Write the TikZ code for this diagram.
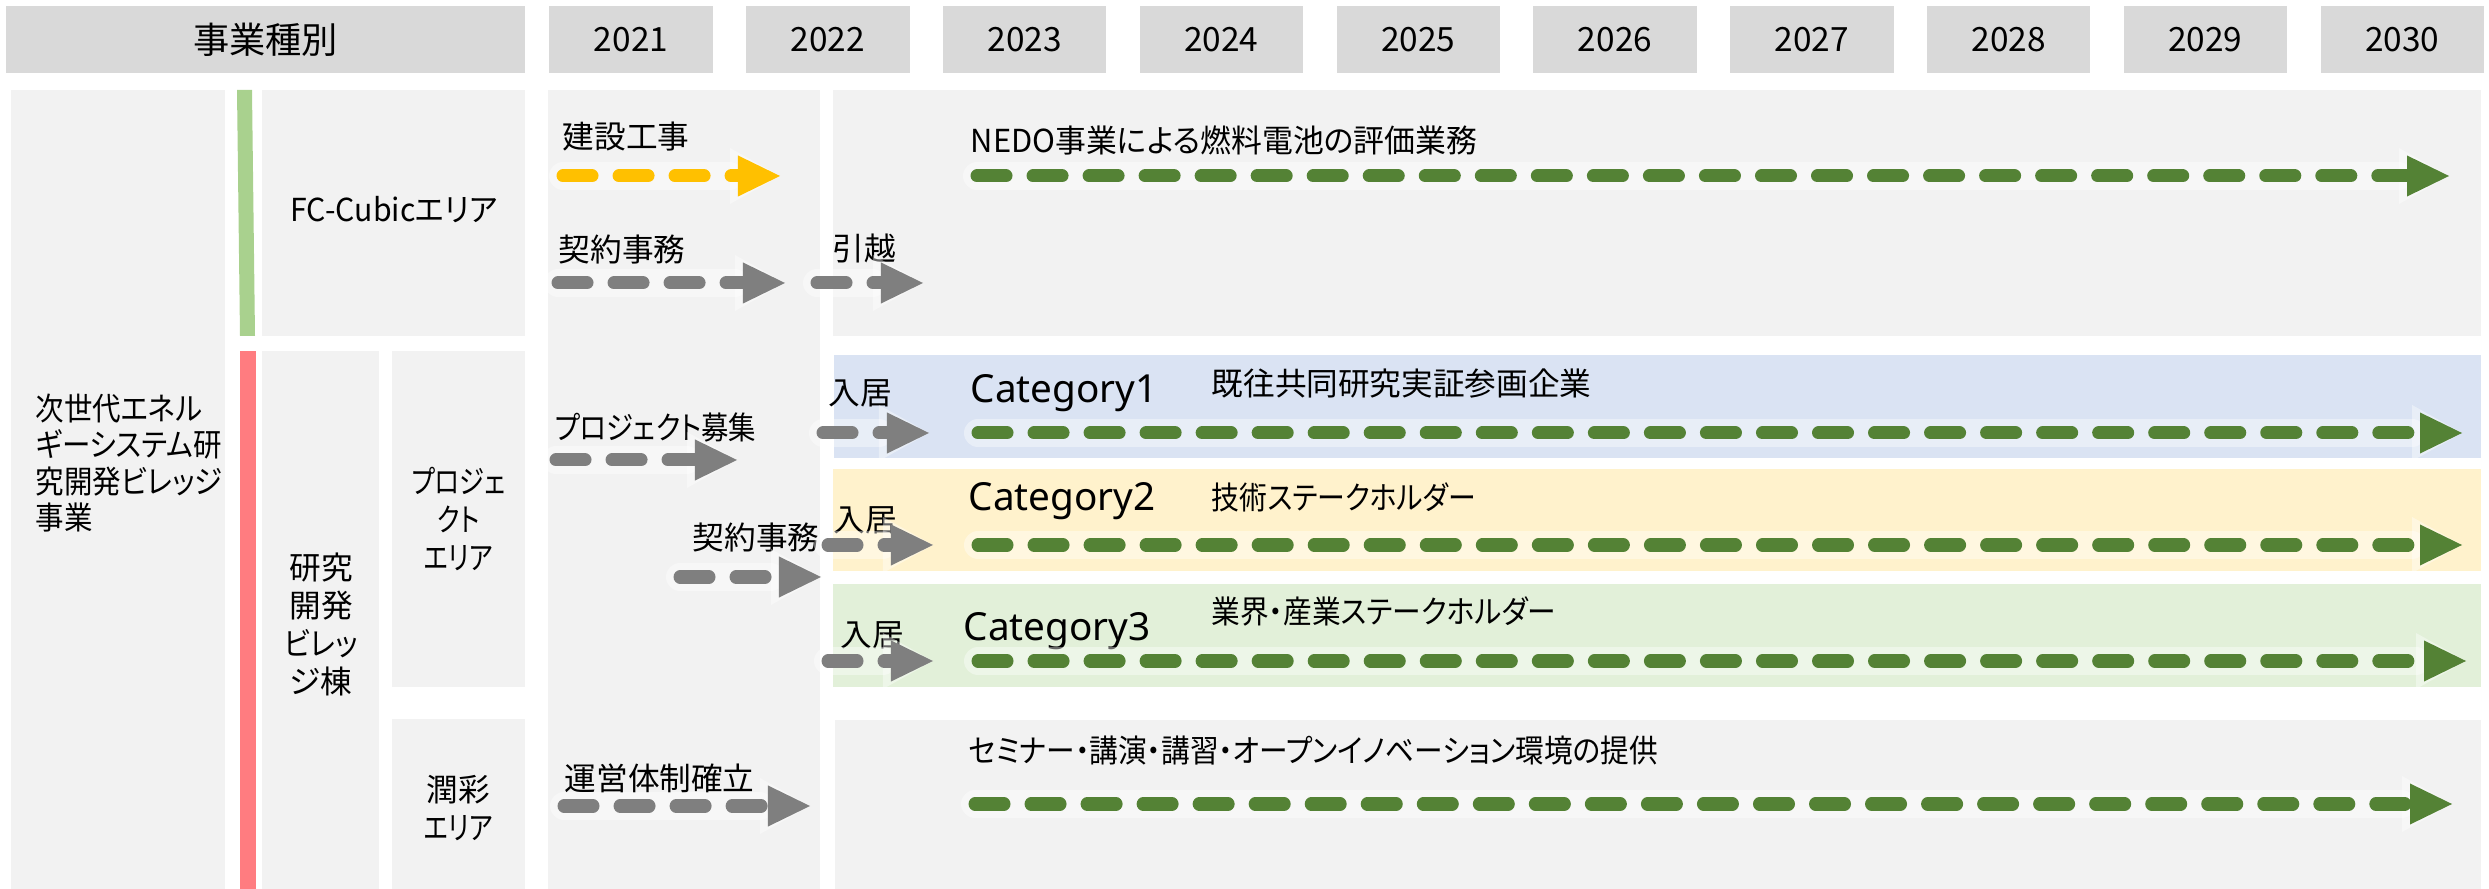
\documentclass[tikz,border=0pt]{standalone}
\usepackage{fontspec}
\setmainfont{Noto Sans CJK JP}[RawFeature={+palt}]
\newfontfamily\catfont{Noto Sans}
\usetikzlibrary{arrows.meta}
\definecolor{hdrgray}{HTML}{D9D9D9}
\definecolor{boxgray}{HTML}{F2F2F2}
\definecolor{catA}{HTML}{DAE3F3}
\definecolor{catB}{HTML}{FFF2CC}
\definecolor{catC}{HTML}{E2F0D9}
\definecolor{barG}{HTML}{A9D18E}
\definecolor{barR}{HTML}{FF7C80}
\definecolor{arG}{HTML}{548235}
\definecolor{arY}{HTML}{FFC000}
\definecolor{arK}{HTML}{7F7F7F}
\newcommand\narrowby[1]{\addfontfeatures{FakeStretch=#1}}
\begin{document}
\begin{tikzpicture}[x=0.01cm,y=-0.01cm,
  txt/.style={inner sep=0pt, font=\fontsize{9}{10.6}\selectfont},
  lbl/.style={txt, anchor=west},
  cat/.style={inner sep=0pt, anchor=west, font=\catfont\fontsize{11}{13}\selectfont},
  tlarrow/.style={line width=0.13cm, dash pattern=on 0.29cm off 0.27cm, line cap=round,
     -{Triangle[length=0.42cm,width=0.41cm,line width=0pt]},
     preaction={draw=white, opacity=0.4, solid, line width=0.28cm, line cap=round,
        -{Triangle[length=0.5cm,width=0.56cm,line width=0pt]}}},
  garrow/.style={tlarrow, draw=arG},
  yarrow/.style={tlarrow, draw=arY},
  karrow/.style={tlarrow, draw=arK}]
\useasboundingbox (0,0) rectangle (2489,889);
% header
\fill[hdrgray] (6,6) rectangle (525,73);
\node[txt, font=\fontsize{10.3}{12}\selectfont] (hdr) at (265.5,40) {事業種別};
\foreach \yr [count=\k from 0] in {2021,2022,2023,2024,2025,2026,2027,2028,2029,2030}{
  \fill[hdrgray] ({549.3+196.8*\k},6) rectangle ++(163.5,67);
  \node[txt, font=\fontsize{9.5}{11}\selectfont] (y\yr) at ({631+196.8*\k},40) {\yr};
}
% left category boxes
\fill[boxgray] (11,90) rectangle (225,889);
\fill[barG] (237,90) -- (252,90) -- (255,336) -- (240,336) -- cycle;
\fill[boxgray] (262,90) rectangle (525,336);
\fill[barR] (240,351) rectangle (256,889);
\fill[boxgray] (262,351) rectangle (379,889);
\fill[boxgray] (392,351) rectangle (525,687);
\fill[boxgray] (392,719) rectangle (525,889);
% timeline backgrounds
\fill[boxgray] (548,90) rectangle (820,889);
\fill[boxgray] (833,90) rectangle (2481,336);
\fill[catA] (834,355) rectangle (2481,458);
\fill[catB] (833,469) rectangle (2481,571);
\fill[catC] (833,584) rectangle (2481,687);
\fill[boxgray] (835,720) rectangle (2481,889);
% left texts
\node[txt, anchor=west, align=left, font=\fontsize{9}{10.4}\selectfont\narrowby{0.9}] (biz) at (35,463) {次世代エネル\\ギーシステム研\\究開発ビレッジ\\事業};
\node[txt, font=\fontsize{9}{10.6}\selectfont\narrowby{0.955}] (fc) at (394,210) {FC-Cubicエリア};
\node[txt, align=center, font=\fontsize{9}{10.8}\selectfont] (lab) at (321,624) {研究\\開発\\{\narrowby{0.9}ビレッ}\\ジ棟};
\node[txt, align=center, font=\fontsize{9}{10.8}\selectfont\narrowby{0.8}] (proj) at (458.5,519) {プロジェ\\クト\\エリア};
\node[txt, align=center, font=\fontsize{9}{10.8}\selectfont] (jun) at (458.5,808) {潤彩\\{\narrowby{0.8}エリア}};
% timeline texts
\node[lbl] (t1) at (562,137) {建設工事};
\node[lbl] (t2) at (558,250) {契約事務};
\node[lbl] (t3) at (832,248) {引越};
\node[lbl, font=\fontsize{9}{10.6}\selectfont\narrowby{0.975}] (t4) at (970,140) {NEDO事業による燃料電池の評価業務};
\node[lbl, font=\fontsize{9}{10.6}\selectfont\narrowby{0.865}] (t5) at (554,428) {プロジェクト募集};
\node[lbl] (t6) at (828,393) {入居};
\node[cat] (c1) at (970,393) {Category1};
\node[lbl] (d1) at (1211,384) {既往共同研究実証参画企業};
\node[cat] (c2) at (968,501) {Category2};
\node[lbl, font=\fontsize{9}{10.6}\selectfont\narrowby{0.88}] (d2) at (1211,497) {技術ステークホルダー};
\node[lbl] (t7) at (833,520) {入居};
\node[lbl] (t8) at (692,538) {契約事務};
\node[cat] (c3) at (963,631) {Category3};
\node[lbl, font=\fontsize{9}{10.6}\selectfont\narrowby{0.907}] (d3) at (1211,611) {業界・産業ステークホルダー};
\node[lbl] (t9) at (840,635) {入居};
\node[lbl, font=\fontsize{9}{10.6}\selectfont\narrowby{0.906}] (t10) at (968,751) {セミナー・講演・講習・オープンイノベーション環境の提供};
\node[lbl] (t11) at (564,778) {運営体制確立};
% arrow coordinates
\coordinate (a1s) at (563,176);  \coordinate (a1e) at (780,176);
\coordinate (a2s) at (558,283);  \coordinate (a2e) at (785,283);
\coordinate (a3s) at (817,283);  \coordinate (a3e) at (923,283);
\coordinate (a4s) at (977,176);  \coordinate (a4e) at (2449,176);
\coordinate (a5s) at (556,460);  \coordinate (a5e) at (737,460);
\coordinate (a6s) at (823,433);  \coordinate (a6e) at (929,433);
\coordinate (a7s) at (978,433);  \coordinate (a7e) at (2462,433);
\coordinate (a8s) at (828,545);  \coordinate (a8e) at (933,545);
\coordinate (a9s) at (680,577);  \coordinate (a9e) at (821,577);
\coordinate (a10s) at (978,545); \coordinate (a10e) at (2462,545);
\coordinate (a11s) at (828,661); \coordinate (a11e) at (933,661);
\coordinate (a12s) at (978,661); \coordinate (a12e) at (2466,661);
\coordinate (a13s) at (564,806); \coordinate (a13e) at (810,806);
\coordinate (a14s) at (975,804); \coordinate (a14e) at (2452,804);
% arrows
\draw[yarrow] (a1s) -- (a1e);
\draw[karrow] (a2s) -- (a2e);
\draw[karrow] (a3s) -- (a3e);
\draw[garrow] (a4s) -- (a4e);
\draw[karrow] (a5s) -- (a5e);
\draw[karrow] (a6s) -- (a6e);
\draw[garrow] (a7s) -- (a7e);
\draw[karrow] (a8s) -- (a8e);
\draw[karrow] (a9s) -- (a9e);
\draw[garrow] (a10s) -- (a10e);
\draw[karrow] (a11s) -- (a11e);
\draw[garrow] (a12s) -- (a12e);
\draw[karrow] (a13s) -- (a13e);
\draw[garrow] (a14s) -- (a14e);
\end{tikzpicture}
\end{document}
